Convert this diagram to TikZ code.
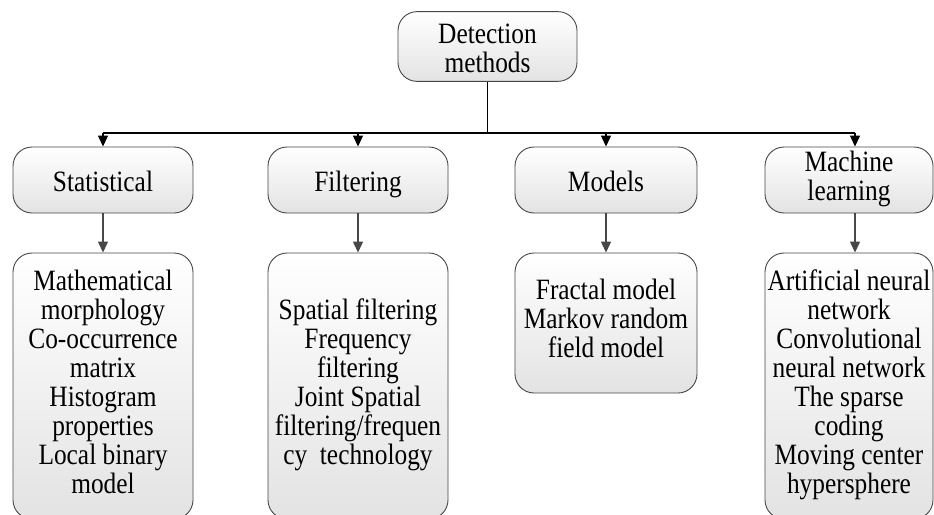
\documentclass[tikz,border=0pt]{standalone}
\usepackage{fontspec}
\setmainfont[FakeStretch=0.86]{Liberation Serif}
\usetikzlibrary{arrows.meta}

\newcommand{\tallstrut}{\rule{0pt}{32pt}}

\tikzset{
  box/.style={draw=black!72, line width=0.9pt, rounded corners=19pt,
    top color=white, bottom color=black!11, align=center,
    inner sep=0pt, font=\fontsize{29.5}{29}\selectfont},
  % multi-line boxes: struts keep the line stack symmetric
  stack/.style={box, execute at begin node=\strut, execute at end node=\strut},
  single/.style={box, text height=22pt, text depth=0pt},
  link/.style={draw=black, line width=1.3pt},
  arr/.style={link, -{Triangle[length=11pt, width=10pt]}},
  subarr/.style={arr, draw=black!72},
}

\begin{document}
\begin{tikzpicture}[x=1pt, y=-1pt]
  \useasboundingbox (0,0) rectangle (934,514);
  \clip (0,0) rectangle (934,514);

  % root (text sits a little low in its box)
  \node[box, minimum width=179pt, minimum height=67pt]
    (root) at (487.5,46.5) {\tallstrut Detection\\methods\strut};

  % category boxes
  \node[single, minimum width=180pt, minimum height=66pt] (stat) at (103,180) {Statistical};
  \node[single, minimum width=180pt, minimum height=66pt] (filt) at (358,180) {Filtering};
  \node[single, minimum width=182pt, minimum height=66pt] (mod)  at (606,180) {Models};
  \node[stack,  minimum width=168pt, minimum height=66pt] (ml)   at (849,180) {Machine\\learning};

  % method lists
  \node[stack, minimum width=180pt, minimum height=266pt] (statb) at (103,386)
    {Mathematical\\morphology\\Co-occurrence\\matrix\\Histogram\\properties\\Local binary\\model};
  \node[stack, minimum width=180pt, minimum height=266pt] (filtb) at (358,386)
    {Spatial filtering\\Frequency\\filtering\\Joint Spatial\\filtering/frequen\\cy\ \ technology};
  \node[stack, minimum width=182pt, minimum height=140pt] (modb) at (606,323)
    {Fractal model\\Markov random\\field model};
  \node[stack, minimum width=168pt, minimum height=266pt] (mlb) at (849,386)
    {Artificial neural\\network\\Convolutional\\neural network\\The sparse\\coding\\Moving center\\hypersphere};

  % distribution bus
  \coordinate (bus) at (487.5,133);
  \coordinate (mlin) at ([xshift=6pt]ml.north);
  \draw[link] (root.south) -- (bus);
  \draw[link] (stat.north |- bus) -- (mlin |- bus);
  \foreach \n in {stat,filt,mod}
    \draw[arr] (\n.north |- bus) -- (\n.north);
  \draw[arr] (mlin |- bus) -- (mlin);

  % category to list
  \draw[subarr] (stat.south) -- (statb.north);
  \draw[subarr] (filt.south) -- (filtb.north);
  \draw[subarr] (mod.south)  -- (modb.north);
  \draw[subarr] ([xshift=6pt]ml.south) -- ([xshift=6pt]mlb.north);
\end{tikzpicture}
\end{document}
